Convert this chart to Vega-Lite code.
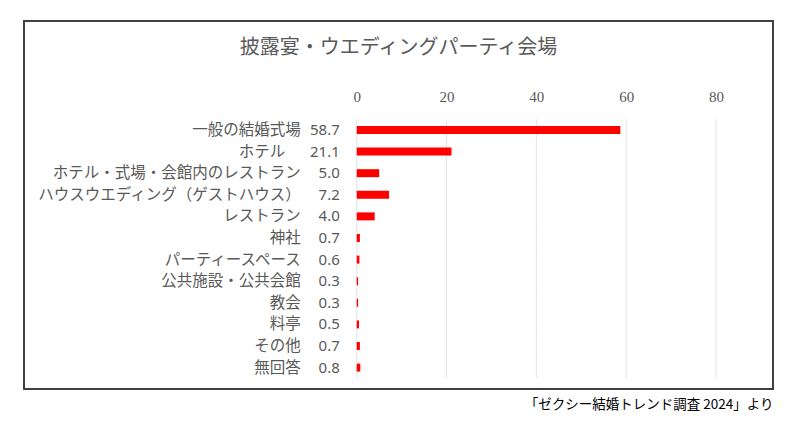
{
  "$schema": "https://vega.github.io/schema/vega-lite/v6.json",
  "autosize": {"type": "none"},
  "padding": {"left": 24, "top": 21, "right": 25, "bottom": 46},
  "width": 749,
  "height": 368,
  "background": "white",
  "config": {
    "view": {"stroke": "#404040", "strokeWidth": 2},
    "font": "Noto Sans CJK JP"
  },
  "title": {
    "text": "披露宴・ウエディングパーティ会場",
    "orient": "top",
    "anchor": "middle",
    "frame": "group",
    "offset": -57,
    "baseline": "bottom",
    "fontSize": 20,
    "fontWeight": "normal",
    "color": "#595959",
    "font": "Noto Sans CJK JP"
  },
  "data": {
    "values": [
      {"c": "一般の結婚式場", "v": 58.7},
      {"c": "ホテル　⁠", "v": 21.1},
      {"c": "ホテル・式場・会館内のレストラン", "v": 5.0},
      {"c": "ハウスウエディング（ゲストハウス）", "v": 7.2},
      {"c": "レストラン", "v": 4.0},
      {"c": "神社", "v": 0.7},
      {"c": "パーティースペース", "v": 0.6},
      {"c": "公共施設・公共会館", "v": 0.3},
      {"c": "教会", "v": 0.3},
      {"c": "料亭", "v": 0.5},
      {"c": "その他", "v": 0.7},
      {"c": "無回答", "v": 0.8}
    ]
  },
  "resolve": {"axis": {"x": "independent"}},
  "layer": [
    {
      "mark": {"type": "tick", "orient": "vertical", "color": "#d9d9d9", "thickness": 1, "size": 22},
      "encoding": {
        "x": {
          "datum": 0,
          "type": "quantitative",
          "scale": {"domain": [-74.1, 92.7], "nice": false, "zero": false},
          "axis": {
            "orient": "top",
            "values": [0, 20, 40, 60, 80],
            "grid": false,
            "domain": false,
            "ticks": false,
            "labelPadding": 2,
            "offset": -85,
            "labelFont": "Liberation Serif",
            "labelFontSize": 15,
            "labelColor": "#595959",
            "title": null
          }
        },
        "y": {
          "field": "c",
          "type": "nominal",
          "sort": null,
          "axis": null,
          "scale": {"type": "band", "range": [98.2, 357.4], "paddingInner": 0, "paddingOuter": 0}
        }
      }
    },
    {
      "mark": {"type": "tick", "orient": "vertical", "color": "#d9d9d9", "thickness": 1, "size": 22},
      "encoding": {
        "x": {"datum": 20, "type": "quantitative", "axis": null},
        "y": {"field": "c", "type": "nominal", "sort": null}
      }
    },
    {
      "mark": {"type": "tick", "orient": "vertical", "color": "#d9d9d9", "thickness": 1, "size": 22},
      "encoding": {
        "x": {"datum": 40, "type": "quantitative", "axis": null},
        "y": {"field": "c", "type": "nominal", "sort": null}
      }
    },
    {
      "mark": {"type": "tick", "orient": "vertical", "color": "#d9d9d9", "thickness": 1, "size": 22},
      "encoding": {
        "x": {"datum": 60, "type": "quantitative", "axis": null},
        "y": {"field": "c", "type": "nominal", "sort": null}
      }
    },
    {
      "mark": {"type": "tick", "orient": "vertical", "color": "#d9d9d9", "thickness": 1, "size": 22},
      "encoding": {
        "x": {"datum": 80, "type": "quantitative", "axis": null},
        "y": {"field": "c", "type": "nominal", "sort": null}
      }
    },
    {
      "mark": {"type": "bar", "color": "#ff0000", "size": 8},
      "encoding": {
        "x": {"field": "v", "type": "quantitative", "axis": null},
        "y": {"field": "c", "type": "nominal", "sort": null}
      }
    },
    {
      "mark": {"type": "text", "align": "right", "baseline": "middle", "dx": -17, "fontSize": 15, "font": "Noto Sans", "color": "#595959"},
      "encoding": {
        "x": {
          "datum": 0,
          "type": "quantitative",
          "axis": {
            "orient": "bottom",
            "labels": false,
            "ticks": false,
            "domain": false,
            "grid": false,
            "title": "「ゼクシー結婚トレンド調査 2024」より",
            "titleAnchor": "end",
            "titleAlign": "right",
            "titleBaseline": "top",
            "titlePadding": 8,
            "titleFont": "Noto Sans CJK JP",
            "titleFontSize": 13.5,
            "titleFontWeight": "normal",
            "titleColor": "#000000"
          }
        },
        "y": {"field": "c", "type": "nominal", "sort": null},
        "text": {"field": "v", "type": "quantitative", "format": ".1f"}
      }
    },
    {
      "mark": {"type": "text", "align": "right", "baseline": "middle", "dx": -56, "fontSize": 15.5, "font": "Noto Sans CJK JP", "color": "#595959"},
      "encoding": {
        "x": {"datum": 0, "type": "quantitative", "axis": null},
        "y": {"field": "c", "type": "nominal", "sort": null},
        "text": {"field": "c", "type": "nominal"}
      }
    }
  ]
}
